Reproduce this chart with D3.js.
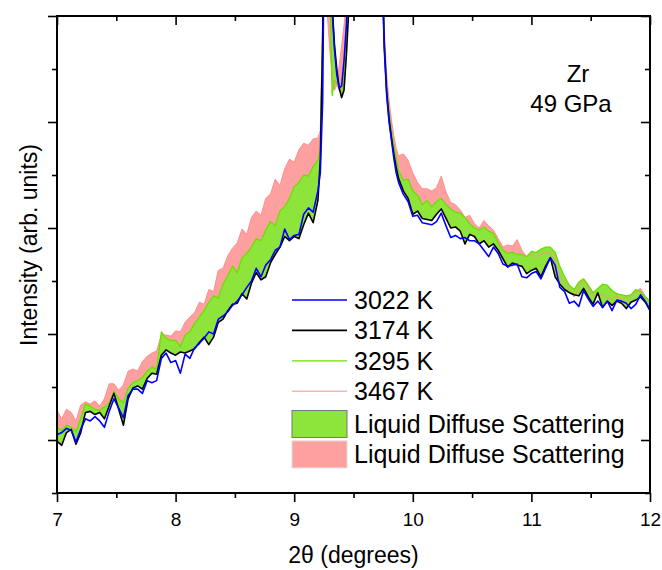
<!DOCTYPE html>
<html>
<head>
<meta charset="utf-8">
<script src="https://cdn.jsdelivr.net/npm/d3@7"></script>
<style>
  body { margin: 0; background: #fff; }
  svg text { font-family: "Liberation Sans", Arial, sans-serif; fill: #000; }
</style>
</head>
<body>
<div id="viz"></div>
<script>
// 2-theta grid (degrees), denser through the Bragg peak
var twoTheta = [
  7.00, 7.04, 7.08, 7.12, 7.16, 7.20, 7.24, 7.28, 7.32, 7.36, 7.40, 7.44, 7.48, 7.52, 7.56,
  7.60, 7.64, 7.68, 7.72, 7.76, 7.80, 7.84, 7.88, 7.92, 7.96, 8.00, 8.04, 8.08, 8.12, 8.16,
  8.20, 8.24, 8.28, 8.32, 8.36, 8.40, 8.44, 8.48, 8.52, 8.56, 8.60, 8.64, 8.68, 8.72, 8.76,
  8.80, 8.84, 8.88, 8.92, 8.96, 9.00, 9.04, 9.08, 9.12, 9.16,
  9.20, 9.22, 9.24, 9.26, 9.28, 9.30, 9.32, 9.34, 9.36, 9.38, 9.40, 9.42, 9.44, 9.46, 9.48,
  9.52, 9.60, 9.68, 9.72, 9.74, 9.76, 9.78, 9.80, 9.82, 9.84, 9.86, 9.88,
  9.92, 9.96, 10.00, 10.04, 10.08, 10.12, 10.16, 10.20, 10.24, 10.28, 10.32, 10.36, 10.40,
  10.44, 10.48, 10.52, 10.56, 10.60, 10.64, 10.68, 10.72, 10.76, 10.80, 10.84, 10.88, 10.92,
  10.96, 11.00, 11.04, 11.08, 11.12, 11.16, 11.20, 11.24, 11.28, 11.32, 11.36, 11.40, 11.44,
  11.48, 11.52, 11.56, 11.60, 11.64, 11.68, 11.72, 11.76, 11.80, 11.84, 11.88, 11.92, 11.96, 12.00
];

// intensities (arb. units) per temperature
var i3022 = [
  55, 57, 61, 59, 48, 60, 70, 68, 72, 68, 62, 77, 89, 80, 71,
  92, 98, 98, 94, 106, 104, 106, 127, 132, 123, 125, 113, 131, 127, 137,
  141, 146, 152, 150, 164, 167, 171, 177, 181, 187, 194, 200, 212, 204, 215,
  220, 229, 232, 249, 239, 243, 244, 263, 269, 265,
  285, 302, 370, 620, 900, 600, 456, 418, 394, 382, 384, 408, 441, 493, 650,
  900, 1200, 900, 650, 493, 418, 375, 350, 333, 316, 302, 293,
  282, 275, 261, 262, 255, 254, 253, 256, 264, 252, 241, 243, 240,
  241, 238, 238, 235, 229, 223, 232, 226, 216, 214, 215, 216, 204,
  203, 207, 209, 202, 212, 222, 215, 194, 190, 179, 181, 176, 191,
  183, 176, 181, 175, 181, 172, 182, 181, 179, 174, 178, 187, 181, 173
];
var i3174 = [
  49, 45, 57, 60, 46, 57, 76, 77, 74, 76, 70, 82, 94, 79, 64,
  89, 99, 101, 98, 108, 113, 112, 130, 135, 132, 130, 133, 132, 134, 136,
  142, 147, 140, 147, 161, 164, 172, 178, 179, 188, 183, 198, 208, 201, 204,
  217, 225, 232, 242, 238, 242, 240, 253, 264, 255,
  276, 314, 427, 700, 900, 700, 460, 422, 399, 382, 373, 380, 413, 456, 620,
  900, 1200, 900, 660, 503, 422, 378, 353, 335, 320, 307, 297,
  285, 278, 263, 266, 259, 258, 257, 263, 268, 259, 250, 251, 247,
  235, 244, 242, 235, 238, 232, 235, 229, 221, 213, 217, 215, 214,
  207, 210, 212, 204, 214, 222, 204, 197, 192, 189, 187, 186, 193,
  185, 178, 189, 175, 181, 177, 181, 179, 174, 180, 182, 185, 180, 172
];
var i3295 = [
  62, 59, 64, 62, 58, 70, 84, 82, 79, 78, 81, 85, 96, 89, 85,
  99, 104, 106, 109, 115, 119, 117, 152, 146, 144, 144, 138, 149, 152, 160,
  166, 172, 180, 186, 184, 197, 205, 214, 208, 222, 226, 232, 240, 238, 248,
  256, 252, 266, 270, 278, 289, 293, 300, 299, 308,
  314, 323, 437, 720, 900, 484, 375, 389, 387, 380, 375, 394, 437, 484, 660,
  900, 1200, 900, 680, 512, 427, 382, 359, 342, 328, 316, 304,
  295, 296, 285, 281, 272, 276, 270, 275, 278, 272, 268, 265, 264,
  260, 254, 250, 248, 251, 247, 245, 236, 229, 226, 227, 225, 225,
  223, 228, 227, 230, 232, 232, 227, 214, 204, 196, 192, 199, 202,
  196, 189, 193, 197, 196, 191, 188, 187, 186, 187, 192, 190, 185, 181
];
var i3467 = [
  78, 70, 79, 76, 68, 83, 86, 84, 87, 82, 89, 103, 103, 97, 102,
  115, 117, 115, 124, 129, 132, 134, 149, 149, 148, 153, 152, 161, 166, 170,
  180, 178, 192, 190, 210, 212, 224, 231, 236, 249, 244, 260, 266, 262, 278,
  282, 296, 290, 306, 315, 312, 324, 330, 328, 334,
  335, 342, 446, 512, 451, 418, 394, 380, 385, 404, 422, 441, 465, 520, 680,
  900, 1200, 900, 700, 531, 437, 394, 370, 352, 337, 325, 318,
  320, 314, 302, 293, 287, 287, 285, 288, 299, 284, 274, 272, 267,
  260, 262, 254, 250, 257, 252, 248, 240, 232, 234, 233, 239, 229,
  223, 225, 223, 225, 227, 226, 219, 204, 198, 192, 185, 194, 202,
  194, 186, 186, 187, 184, 182, 186, 182, 185, 184, 190, 193, 186, 181
];

var temperatures = ["3022 K", "3174 K", "3295 K", "3467 K"];
var fillLabels = ["Liquid Diffuse Scattering", "Liquid Diffuse Scattering"];

var xMajor = [7, 8, 9, 10, 11, 12];
var xMinor = [7.5, 8.5, 9.5, 10.5, 11.5];
var yMajor = [50, 150, 250, 350, 450];
var yMinor = [0, 100, 200, 300, 400];

var lineColors = ["#0000ff", "#000000", "#6fdc00", "#ff8f8f"];
var lineWidths = [1.6, 1.6, 1.3, 1];
var greenFill = "#8de43b";
var pinkFill = "#ffa0a0";

var margin = { top: 16, right: 12, bottom: 77, left: 57 },
  width = 662 - margin.left - margin.right,
  height = 570 - margin.top - margin.bottom;

var svg = d3
  .select("#viz")
  .append("svg")
  .attr("width", width + margin.left + margin.right)
  .attr("height", height + margin.top + margin.bottom)
  .append("g")
  .attr("transform", "translate(" + margin.left + "," + margin.top + ")");

var x = d3.scaleLinear().domain([7, 12]).range([0, width]);
var y = d3.scaleLinear().domain([0, 450]).range([height, 0]);

var rows = twoTheta.map((t, i) => {
  return { t: t, a: i3022[i], b: i3174[i], c: i3295[i], d: i3467[i] };
});

svg
  .append("clipPath")
  .attr("id", "plotClip")
  .append("rect")
  .attr("width", width)
  .attr("height", height);

var plot = svg.append("g").attr("clip-path", "url(#plotClip)");

// shaded bands: 3295-3467 (pink) under 3174-3295 (green)
var pinkBand = d3
  .area()
  .x((d) => x(d.t))
  .y0((d) => y(d.c))
  .y1((d) => y(d.d));
var greenBand = d3
  .area()
  .x((d) => x(d.t))
  .y0((d) => y(d.b))
  .y1((d) => y(d.c));

plot.append("path").datum(rows).attr("d", pinkBand).attr("fill", pinkFill);
plot.append("path").datum(rows).attr("d", greenBand).attr("fill", greenFill);

var keys = ["a", "b", "c", "d"];
// draw hottest first so 3022 K ends on top
[3, 2, 1, 0].forEach((k) => {
  var line = d3
    .line()
    .x((d) => x(d.t))
    .y((d) => y(d[keys[k]]));
  plot
    .append("path")
    .datum(rows)
    .attr("d", line)
    .attr("fill", "none")
    .attr("stroke", lineColors[k])
    .attr("stroke-width", lineWidths[k])
    .attr("stroke-linejoin", "round");
});

// axes with mirrored inward ticks on top/right
function styleAxis(g, w) {
  g.select(".domain").remove();
  g.selectAll("line").attr("stroke", "#000").attr("stroke-width", w);
}

var bottomMajor = svg
  .append("g")
  .attr("transform", "translate(0," + height + ")")
  .call(d3.axisBottom(x).tickValues(xMajor).tickSize(9).tickPadding(11).tickFormat(d3.format("d")));
styleAxis(bottomMajor, 1.6);
bottomMajor
  .selectAll("text")
  .attr("font-size", 19)
  .attr("font-family", '"Liberation Sans", Arial, sans-serif');

svg
  .append("g")
  .attr("transform", "translate(0," + height + ")")
  .call(d3.axisBottom(x).tickValues(xMinor).tickSize(5).tickFormat(""))
  .call((g) => styleAxis(g, 1.6));

svg
  .append("g")
  .call(d3.axisTop(x).tickValues(xMajor).tickSize(-9).tickFormat(""))
  .call((g) => styleAxis(g, 1.6));
svg
  .append("g")
  .call(d3.axisTop(x).tickValues(xMinor).tickSize(-5).tickFormat(""))
  .call((g) => styleAxis(g, 1.6));

svg
  .append("g")
  .call(d3.axisLeft(y).tickValues(yMajor).tickSize(9).tickFormat(""))
  .call((g) => styleAxis(g, 1.6));
svg
  .append("g")
  .call(d3.axisLeft(y).tickValues(yMinor).tickSize(5).tickFormat(""))
  .call((g) => styleAxis(g, 1.6));

svg
  .append("g")
  .attr("transform", "translate(" + width + ",0)")
  .call(d3.axisRight(y).tickValues(yMajor).tickSize(-9).tickFormat(""))
  .call((g) => styleAxis(g, 1.6));
svg
  .append("g")
  .attr("transform", "translate(" + width + ",0)")
  .call(d3.axisRight(y).tickValues(yMinor).tickSize(-5).tickFormat(""))
  .call((g) => styleAxis(g, 1.6));

svg
  .append("rect")
  .attr("width", width)
  .attr("height", height)
  .attr("fill", "none")
  .attr("stroke", "#000")
  .attr("stroke-width", 2);

//axis labels
svg
  .append("text")
  .attr("x", width / 2)
  .attr("y", height + 70)
  .style("text-anchor", "middle")
  .style("font-size", "23px")
  .text("2\u03b8 (degrees)");

svg
  .append("text")
  .attr("transform", "rotate(-90)")
  .attr("x", 0 - 245 + margin.top)
  .attr("y", 37 - margin.left)
  .style("text-anchor", "middle")
  .style("font-size", "23px")
  .text("Intensity (arb. units)");

svg
  .append("text")
  .attr("x", 521)
  .attr("y", 66)
  .style("text-anchor", "middle")
  .style("font-size", "24px")
  .text("Zr");
svg
  .append("text")
  .attr("x", 514)
  .attr("y", 96)
  .style("text-anchor", "middle")
  .style("font-size", "24px")
  .text("49 GPa");

// legend
var legend = svg.append("g").attr("transform", "translate(235,284)");
temperatures.forEach((label, i) => {
  var row = legend.append("g").attr("transform", "translate(0," + i * 30.4 + ")");
  row
    .append("line")
    .attr("x1", 0)
    .attr("x2", 55)
    .attr("stroke", lineColors[i])
    .attr("stroke-width", lineWidths[i]);
  row
    .append("text")
    .attr("x", 62)
    .attr("y", 9)
    .style("font-size", "25px")
    .text(label);
});
[greenFill, pinkFill].forEach((c, i) => {
  var row = legend.append("g").attr("transform", "translate(0," + (124 + i * 30.4) + ")");
  row
    .append("rect")
    .attr("x", 0)
    .attr("y", -13.5)
    .attr("width", 55)
    .attr("height", 27)
    .attr("fill", c)
    .attr("stroke", i === 0 ? "#777" : "#ddd")
    .attr("stroke-width", 1);
  row
    .append("text")
    .attr("x", 62)
    .attr("y", 9)
    .style("font-size", "25px")
    .text(fillLabels[i]);
});
</script>
</body>
</html>
